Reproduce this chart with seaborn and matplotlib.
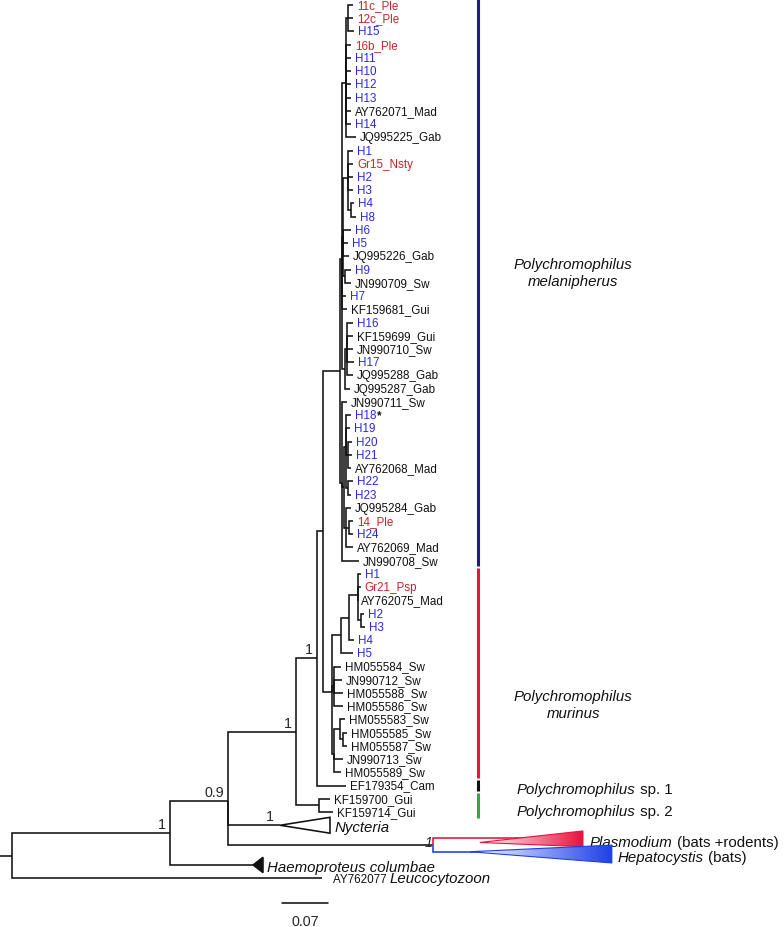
import numpy as np
import matplotlib
matplotlib.use('Agg')
import matplotlib.pyplot as plt
import seaborn as sns
from matplotlib.collections import LineCollection
from matplotlib.colors import LinearSegmentedColormap
from matplotlib.patches import Polygon

# leaves, top to bottom; depth = distance from the root where the branch ends
leaf_names = ['11c_Ple', '12c_Ple', 'H15', '16b_Ple', 'H11', 'H10', 'H12', 'H13', 'AY762071_Mad', 'H14', 'JQ995225_Gab',
              'H1', 'Gr15_Nsty', 'H2', 'H3', 'H4', 'H8', 'H6', 'H5', 'JQ995226_Gab', 'H9', 'JN990709_Sw',
              'H7', 'KF159681_Gui', 'H16', 'KF159699_Gui', 'JN990710_Sw', 'H17', 'JQ995288_Gab', 'JQ995287_Gab',
              'JN990711_Sw', 'H18*', 'H19', 'H20', 'H21', 'AY762068_Mad', 'H22', 'H23', 'JQ995284_Gab', '14_Ple', 'H24',
              'AY762069_Mad', 'JN990708_Sw',
              'H1', 'Gr21_Psp', 'AY762075_Mad', 'H2', 'H3', 'H4', 'H5',
              'HM055584_Sw', 'JN990712_Sw', 'HM055588_Sw', 'HM055586_Sw', 'HM055583_Sw', 'HM055585_Sw', 'HM055587_Sw',
              'JN990713_Sw', 'HM055589_Sw',
              'EF179354_Cam', 'KF159700_Gui', 'KF159714_Gui',
              'Nycteria', 'Plasmodium', 'Hepatocystis', 'Haemoproteus columbae', 'Leucocytozoon']
# r = own sample, h = haplotype, k = GenBank sequence, c = outgroup / collapsed clade
leaf_kind = ['r', 'r', 'h', 'r', 'h', 'h', 'h', 'h', 'k', 'h', 'k',
             'h', 'r', 'h', 'h', 'h', 'h', 'h', 'h', 'k', 'h', 'k',
             'h', 'k', 'h', 'k', 'k', 'h', 'k', 'k',
             'k', 'h', 'h', 'h', 'h', 'k', 'h', 'h', 'k', 'r', 'h', 'k', 'k',
             'h', 'r', 'k', 'h', 'h', 'h', 'h',
             'k', 'k', 'k', 'k', 'k', 'k', 'k', 'k', 'k',
             'k', 'k', 'k',
             'c', 'c', 'c', 'c', 'c']
leaf_depths = [0.519, 0.519, 0.521, 0.516, 0.516, 0.516, 0.516, 0.516, 0.516, 0.516, 0.524,
               0.519, 0.519, 0.519, 0.519, 0.521, 0.524, 0.516, 0.511, 0.513, 0.516, 0.516,
               0.508, 0.510, 0.519, 0.519, 0.519, 0.521, 0.519, 0.514,
               0.510, 0.516, 0.514, 0.518, 0.518, 0.516, 0.519, 0.516, 0.516, 0.519, 0.519, 0.519, 0.528,
               0.531, 0.531, 0.525, 0.536, 0.537, 0.521, 0.519,
               0.501, 0.502, 0.504, 0.504, 0.507, 0.510, 0.510, 0.504, 0.501,
               0.508, 0.484, 0.489,
               0.408, 0.869, 0.913, 0.367, 0.472]

# internal nodes (children: leaf index or node id)
node_ids = ['root', 'A', 'C', 'PH', 'D', 'KF', 'E', 'F', 'M', 'Up', 'T1', 'T1a', 'T2', 'T2a', 'T2c', 'T2b',
            'H16g', 'H16a', 'Lo', 'L2', 'L2a', 'L2c', 'L2d', 'L2b', 'L2e',
            'R', 'Ra', 'Ra1', 'Ra2', 'Ra3', 'Rb', 'Rc', 'Rc1', 'Rc2']
node_depths = [0.0, 0.240, 0.329, 0.641, 0.432, 0.467, 0.464, 0.473, 0.499, 0.502, 0.508, 0.511, 0.504, 0.511, 0.516, 0.507,
               0.507, 0.510, 0.502, 0.505, 0.508, 0.511, 0.511, 0.508, 0.513,
               0.487, 0.501, 0.513, 0.527, 0.531, 0.490, 0.490, 0.499, 0.504]
node_children = [['A', 66], ['C', 65], ['D', 62, 'PH'], [63, 64], ['E', 'KF'], [60, 61], ['F', 59], ['M', 'R'],
                 ['Up', 'Lo'], ['T1', 'T2', 22, 23, 'H16g'], ['T1a', 3, 4, 5, 6, 7, 8, 9, 10], [0, 1, 2],
                 ['T2a', 17, 18, 19, 'T2b'], [11, 12, 13, 14, 'T2c'], [15, 16], [20, 21],
                 ['H16a', 29], [24, 25, 26, 27, 28], [30, 'L2', 42], ['L2a', 'L2b'], [31, 32, 'L2c', 'L2d'],
                 [33, 34, 35], [36, 37], [38, 'L2e', 41], [39, 40],
                 ['Ra', 'Rb', 'Rc'], ['Ra1', 49], ['Ra2', 48], [43, 44, 45, 'Ra3'], [46, 47],
                 [50, 51, 52, 53], ['Rc1', 57, 58], [54, 'Rc2'], [55, 56]]

# collapsed clades drawn as wedges
clade_rows = [62, 63, 64, 65]
clade_start = [0.408, 0.712, 0.697, 0.367]
clade_end = [0.484, 0.869, 0.913, 0.382]

support_at = ['A', 'C', 'D', 'E', 62, 'PH']
support_vals = ['1', '0.9', '1', '1', '1', '1']

group_genus = 'Polychromophilus'
group_epithet = ['melanipherus', 'murinus', 'sp. 1', 'sp. 2']
group_first = [0, 43, 59, 60]
group_last = [42, 58, 59, 61]

scale_len = 0.07

# ---- style
sns.set_theme(style='white')
plt.rcParams['font.family'] = ['Liberation Sans', 'DejaVu Sans']

PX = 1 / 657      # one pixel in branch-length units
PY = 1 / 13.23    # one pixel in rows
kind_col = {'r': '#c8242b', 'h': '#2a2ae0', 'k': '#111111', 'c': '#111111'}
bar_cols = ['#1c1a8e', '#e3173e', '#111111', '#2ea84a']
line_col = {63: '#e8103c', 64: '#1d3fe8'}
LW = 1.15

fig = plt.figure(figsize=(7.84, 9.28), dpi=100)
ax = fig.add_axes([0, 0, 1, 1])

node_map = dict(zip(node_ids, zip(node_depths, node_children)))
xpos, ypos = {}, {}


def place(key):
    if isinstance(key, int):
        xpos[key], ypos[key] = leaf_depths[key], float(key)
        return ypos[key]
    d, kids = node_map[key]
    ys = [place(k) for k in kids]
    xpos[key], ypos[key] = d, float(np.mean(ys))
    return ypos[key]


place('root')

segs, cols = [[(-12 * PX, ypos['root']), (0, ypos['root'])]], ['#111111']
for nid in node_ids:
    d, kids = node_map[nid]
    for k in kids:
        segs.append([(d, ypos[nid]), (d, ypos[k]), (xpos[k], ypos[k])])
        cols.append(line_col.get(k, '#111111'))
ax.add_collection(LineCollection(segs, colors=cols, linewidths=LW, joinstyle='miter', capstyle='butt', zorder=3))

# wedges: (tip offset, top offset, bottom offset) in rows
wedge_shape = {62: (0, -0.6, 0.6), 63: (0.3, -0.57, 0.62), 64: (0.0, -0.5, 0.85), 65: (0, -0.58, 0.58)}
for row, s, e in zip(clade_rows, clade_start, clade_end):
    t, top, bot = wedge_shape[row]
    pts = [(s, row + t), (e, row + top), (e, row + bot)]
    if row in line_col:
        c = line_col[row]
        poly = Polygon(pts, closed=True, facecolor='none', edgecolor=c, lw=0.8, zorder=4)
        ax.add_patch(poly)
        cm = LinearSegmentedColormap.from_list('fade', ['#ffffff', c])
        im = ax.imshow(np.linspace(0, 1, 256).reshape(1, -1), cmap=cm, aspect='auto', interpolation='bilinear',
                       extent=(s, e, row + bot, row + top), zorder=3.5)
        im.set_clip_path(poly)
    else:
        fc = 'white' if row == 62 else '#111111'
        ax.add_patch(Polygon(pts, closed=True, facecolor=fc, edgecolor='#111111', lw=LW, zorder=4))

# leaf labels
for i, (name, kind) in enumerate(zip(leaf_names, leaf_kind)):
    if kind == 'c':
        continue
    star = name.endswith('*')
    t = ax.text(leaf_depths[i] + 4 * PX, i, name.rstrip('*'), color=kind_col[kind], fontsize=8.4, va='center', ha='left')
    if star:
        ax.annotate('*', xy=(1, 0.5), xycoords=t, va='center', ha='left', fontsize=8.4, fontweight='bold', color='#111111')


def mixed(x, y, italic, plain, size_i=10.8, size_p=10.8):
    t = ax.text(x, y, italic, fontstyle='italic', fontsize=size_i, va='baseline', ha='left', color='#111111')
    if plain:
        ax.annotate(plain, xy=(1, y), xycoords=(t, 'data'), va='baseline', ha='left', fontsize=size_p, color='#111111')
    return t


mixed(clade_end[0] + 5 * PX, 62 + 0.45, 'Nycteria', '')
mixed(clade_end[1] + 7 * PX, 63 + 0.55, 'Plasmodium', ' (bats +rodents)')
mixed(clade_end[2] + 6 * PX, 64 + 0.7, 'Hepatocystis', ' (bats)')
mixed(clade_end[3] + 4 * PX, 65 + 0.45, 'Haemoproteus columbae', '')
t = ax.text(leaf_depths[66] + 11 * PX, 66 + 0.3, 'AY762077 ', fontsize=8.4, va='baseline', ha='left', color='#111111')
ax.annotate('Leucocytozoon', xy=(1, 66 + 0.3), xycoords=(t, 'data'), va='baseline', ha='left',
            fontsize=10.8, fontstyle='italic', color='#111111')

# support values
for key, val in zip(support_at, support_vals):
    if key == 'PH':
        ax.text(xpos[key] - 1 * PX, ypos[63] + 0.3, val, fontsize=10.3, fontstyle='italic', ha='right', va='center')
    else:
        dx = 6 if isinstance(key, int) else 4
        ax.text(xpos[key] - dx * PX, ypos[key] - 2 * PY, val, fontsize=10.3, ha='right', va='bottom')

# group bars and names
bar_x = (478 - 12) * PX
label_x = (517 - 12) * PX
for gi, (ep, a, b, c) in enumerate(zip(group_epithet, group_first, group_last, bar_cols)):
    ax.plot([bar_x, bar_x], [a - 0.43, b + 0.42], color=c, lw=2.2, solid_capstyle='butt')
    if ep.startswith('sp.'):
        mixed(label_x, (a + b) / 2 + (0.55 if gi == 2 else 0.75), group_genus, ' ' + ep)
    else:
        yc = 20.2 if gi == 0 else 52.9
        ax.text(label_x + 56 * PX, yc, group_genus + '\n' + ep, fontstyle='italic', fontsize=10.8,
                ha='center', va='center', linespacing=1.25, color='#111111')

# scale bar
sx = (282 - 12) * PX
ax.plot([sx, sx + scale_len], [67.9, 67.9], color='#111111', lw=LW)
ax.text(sx + scale_len / 2, 69.2, f'{scale_len:.2f}', fontsize=10.3, ha='center', va='center')

ax.set_xlim(-12 * PX, 772 * PX)
ax.set_ylim(922 * PY, -6 * PY)
ax.axis('off')
fig.savefig('out.png', dpi=100)
